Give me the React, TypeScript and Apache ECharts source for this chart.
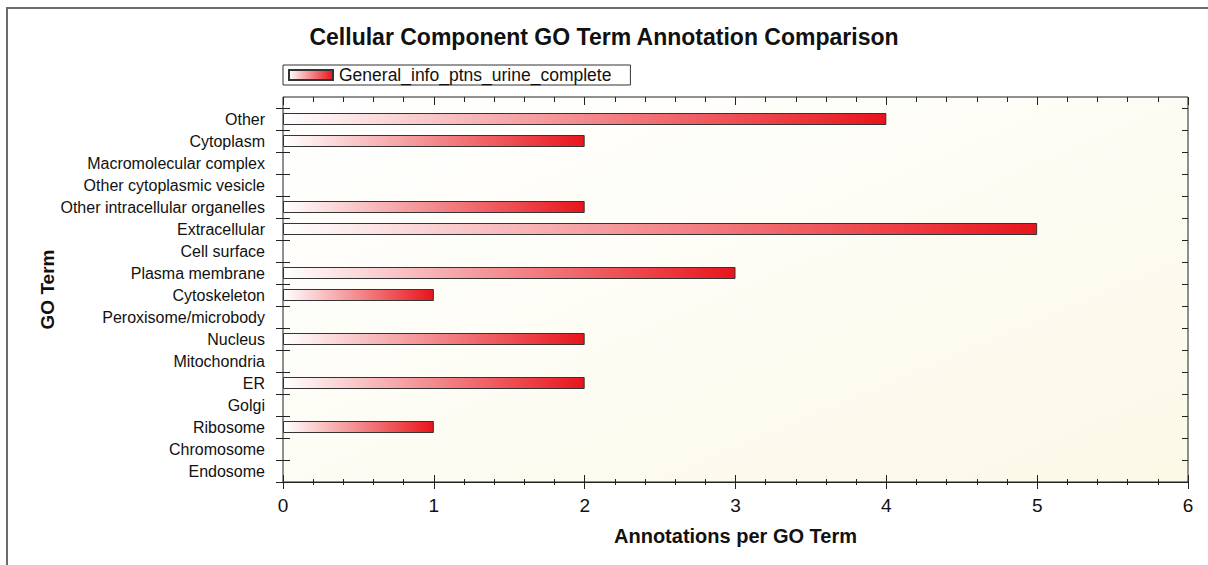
import React, { useEffect, useRef } from "react";
import * as echarts from "echarts";

const categories = [
  "Other",
  "Cytoplasm",
  "Macromolecular complex",
  "Other cytoplasmic vesicle",
  "Other intracellular organelles",
  "Extracellular",
  "Cell surface",
  "Plasma membrane",
  "Cytoskeleton",
  "Peroxisome/microbody",
  "Nucleus",
  "Mitochondria",
  "ER",
  "Golgi",
  "Ribosome",
  "Chromosome",
  "Endosome",
];
const values = [4, 2, 0, 0, 2, 5, 0, 3, 1, 0, 2, 0, 2, 0, 1, 0, 0];
const seriesName = "General_info_ptns_urine_complete";
const titleText = "Cellular Component GO Term Annotation Comparison";
const xName = "Annotations per GO Term";
const yName = "GO Term";
const xMin = 0;
const xMax = 6;
const xInterval = 1;

const FONT = "Arial, 'Liberation Sans', sans-serif";

export default function App() {
  const ref = useRef<HTMLDivElement>(null);
  useEffect(() => {
    if (!ref.current) return;
    const chart = echarts.init(ref.current, undefined, { renderer: "svg" });
    const L = 283;
    const R = 1208 - 1188;
    const B = 565 - 482;
    const lineColor = "#222";
    const hiddenX = {
      show: true,
      axisLine: { show: false },
      axisLabel: { show: false },
      splitLine: { show: false },
    };
    // zero-valued categories have no bar drawn
    const barData = values.map((v) => (v === 0 ? "-" : v));
    const option: any = {
      animation: false,
      backgroundColor: "#ffffff",
      textStyle: { fontFamily: FONT, color: "#111" },
      title: {
        text: titleText,
        left: "center",
        top: 20,
        textStyle: { fontFamily: FONT, fontSize: 23, fontWeight: "bold", color: "#111" },
      },
      legend: {
        left: L,
        top: 65,
        itemWidth: 44,
        itemHeight: 10,
        itemGap: 10,
        borderColor: "#333",
        borderWidth: 1,
        borderRadius: 0,
        padding: [1, 19, 1, 5],
        textStyle: { fontFamily: FONT, fontSize: 17.5, color: "#111", padding: [0, 0, 0, 1] },
        icon: "rect",
        data: [seriesName],
      },
      graphic: [
        {
          type: "rect",
          shape: { x: 7, y: 8, width: 1400, height: 800 },
          style: { fill: "none", stroke: "#6b6b6b", lineWidth: 2 },
          z: -1,
          silent: true,
        },
      ],
      grid: [
        {
          left: L,
          right: R,
          top: 97,
          bottom: B,
          show: true,
          borderColor: lineColor,
          borderWidth: 1,
          backgroundColor: new echarts.graphic.LinearGradient(0, 0, 1, 1, [
            { offset: 0, color: "#ffffff" },
            { offset: 0.5, color: "#fdfcf4" },
            { offset: 1, color: "#fbf9e6" },
          ]),
        },
        { left: L, right: R, top: 108, bottom: B, show: false },
      ],
      xAxis: [
        {
          gridIndex: 0,
          type: "value",
          position: "bottom",
          min: xMin,
          max: xMax,
          interval: xInterval,
          name: xName,
          nameLocation: "middle",
          nameGap: 44,
          nameTextStyle: { fontFamily: FONT, fontSize: 20, fontWeight: "bold", color: "#111" },
          axisLine: { show: true, lineStyle: { color: lineColor, width: 1 } },
          axisTick: { show: true, inside: false, length: 7, lineStyle: { color: lineColor } },
          minorTick: { show: true, splitNumber: 5, length: 3, lineStyle: { color: lineColor } },
          axisLabel: { show: true, margin: 14, fontFamily: FONT, fontSize: 19, color: "#111" },
          splitLine: { show: false },
        },
        {
          gridIndex: 0,
          type: "value",
          position: "bottom",
          min: xMin,
          max: xMax,
          interval: xInterval,
          ...hiddenX,
          axisTick: { show: true, inside: true, length: 7, lineStyle: { color: lineColor } },
          minorTick: { show: true, splitNumber: 5, length: 3, lineStyle: { color: lineColor } },
        },
        {
          gridIndex: 0,
          type: "value",
          position: "top",
          min: xMin,
          max: xMax,
          interval: xInterval,
          ...hiddenX,
          axisTick: { show: true, inside: true, length: 8, lineStyle: { color: lineColor } },
          minorTick: { show: true, splitNumber: 5, length: 5, lineStyle: { color: lineColor } },
        },
        {
          gridIndex: 1,
          type: "value",
          min: xMin,
          max: xMax,
          interval: xInterval,
          show: false,
        },
      ],
      yAxis: [
        {
          gridIndex: 1,
          type: "category",
          data: categories,
          inverse: true,
          position: "left",
          axisLine: { show: false },
          axisTick: { show: true, inside: false, length: 7, interval: 0, lineStyle: { color: lineColor } },
          axisLabel: {
            show: true,
            interval: 0,
            margin: 18,
            fontFamily: FONT,
            fontSize: 16,
            color: "#111",
            padding: [0, 0, 4, 0],
          },
          splitLine: { show: false },
        },
        {
          gridIndex: 1,
          type: "category",
          data: categories,
          inverse: true,
          position: "left",
          axisLine: { show: false },
          axisTick: { show: true, inside: true, length: 7, interval: 0, lineStyle: { color: lineColor } },
          axisLabel: { show: false },
          splitLine: { show: false },
        },
        {
          gridIndex: 1,
          type: "category",
          data: categories,
          inverse: true,
          position: "right",
          axisLine: { show: false },
          axisTick: { show: true, inside: true, length: 6, interval: 0, lineStyle: { color: lineColor } },
          axisLabel: { show: false },
          splitLine: { show: false },
        },
        {
          gridIndex: 0,
          type: "value",
          position: "left",
          name: yName,
          nameLocation: "middle",
          nameRotate: 90,
          nameGap: 226,
          nameTextStyle: { fontFamily: FONT, fontSize: 19, fontWeight: "bold", color: "#111" },
          axisLine: { show: false },
          axisTick: { show: false },
          axisLabel: { show: false },
          splitLine: { show: false },
        },
      ],
      series: [
        {
          name: seriesName,
          type: "bar",
          xAxisIndex: 3,
          yAxisIndex: 0,
          data: barData,
          barWidth: 12,
          itemStyle: {
            color: new echarts.graphic.LinearGradient(0, 0, 1, 0, [
              { offset: 0, color: "#ffffff" },
              { offset: 1, color: "#e8141b" },
            ]),
            borderColor: "#333",
            borderWidth: 1,
          },
        },
      ],
    };
    chart.setOption(option);
    return () => chart.dispose();
  }, []);
  return (
    <div
      ref={ref}
      style={{ position: "fixed", left: 0, top: 0, width: 1208, height: 565 }}
    />
  );
}
